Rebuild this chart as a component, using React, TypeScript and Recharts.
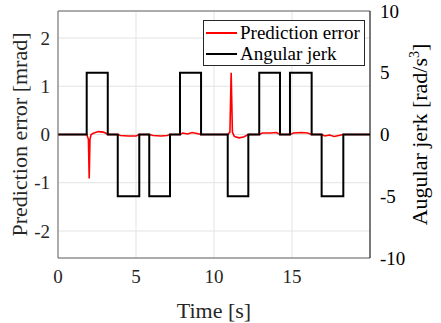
import React from 'react';
import { LineChart, Line, XAxis, YAxis, CartesianGrid, Legend, ReferenceLine } from 'recharts';

// prediction error [mrad]
const errorTime = [
  0, 1.84, 1.95, 2.0, 2.05, 2.12, 2.3, 2.6, 2.9, 3.1, 3.19,
  3.83, 4.0, 4.5, 5.0, 5.21, 5.85, 6.1, 6.6, 7.0, 7.18,
  7.82, 8.0, 8.3, 8.6, 8.9, 9.17, 10.88, 11.02, 11.1, 11.18,
  11.3, 11.6, 11.9, 12.2, 12.9, 13.1, 13.6, 14.0, 14.23,
  14.87, 15.1, 15.6, 16.0, 16.26, 16.9, 17.1, 17.4, 17.7, 18.0, 18.29, 20,
];
const errorValue = [
  0, 0, -0.1, -0.91, -0.1, 0, 0.03, 0.06, 0.05, 0.02, 0,
  0, -0.02, -0.03, -0.03, 0, 0, -0.02, -0.03, -0.02, 0,
  0, 0.03, 0.01, 0.04, 0.02, 0, 0, 0.05, 1.28, 0.05,
  -0.04, -0.07, -0.05, 0, 0, 0.03, 0.03, 0.04, 0,
  0, 0.03, 0.04, 0.03, 0, 0, -0.03, -0.01, -0.04, -0.02, 0, 0,
];

// angular jerk [rad/s^3], piecewise constant
const jerkTime = [0, 1.84, 3.19, 3.83, 5.21, 5.85, 7.18, 7.82, 9.17, 10.88, 12.2, 12.9, 14.23, 14.87, 16.26, 16.9, 18.29, 20];
const jerkValue = [0, 5, 0, -5, 0, -5, 0, 5, 0, -5, 0, 5, 0, 5, 0, -5, 0, 0];

const xTicks = [0, 5, 10, 15];
const leftTicks = [-2, -1, 0, 1, 2];
const rightTicks = [-10, -5, 0, 5, 10];
const seriesNames = ['Prediction error', 'Angular jerk'];
const seriesColors = ['#ff0000', '#000000'];

const errorData = errorTime.map((t, i) => ({ t, err: errorValue[i] }));
const jerkData = jerkTime.map((t, i) => ({ t, jerk: jerkValue[i] }));

const FONT = 'Liberation Serif, Times New Roman, serif';

const LegendBox = () => (
  <div
    style={{
      border: '1px solid #262626',
      background: '#fff',
      fontFamily: FONT,
      fontSize: 19,
      lineHeight: '21px',
      padding: '1px 4px 1px 2px',
      color: '#000',
    }}
  >
    {seriesNames.map((name, i) => (
      <div key={name} style={{ display: 'flex', alignItems: 'center', whiteSpace: 'nowrap' }}>
        <span style={{ display: 'inline-block', width: 31, height: 2, background: seriesColors[i], marginRight: 3 }} />
        <span>{name}</span>
      </div>
    ))}
  </div>
);

const tickStyle = (fill: string) => ({ fill, fontSize: 19, fontFamily: FONT, style: { fontFamily: FONT } });

const App: React.FC = () => {
  return (
    <div style={{ position: 'absolute', left: 0, top: 0, width: 441, height: 323, background: '#fff', fontFamily: FONT }}>
      <LineChart width={441} height={323} margin={{ top: 11, right: 0, bottom: 0, left: 0 }} style={{ fontFamily: FONT }}>
        <CartesianGrid yAxisId="left" stroke="#e3e3e3" strokeWidth={1} />
        <XAxis
          dataKey="t"
          type="number"
          domain={[0, 20]}
          ticks={xTicks}
          allowDataOverflow
          height={65}
          stroke="#666"
          tickSize={0}
          tickMargin={12}
          tick={tickStyle('#262626')}
          label={{
            content: (props: any) => {
              const vb = props.viewBox || { x: 58, y: 258, width: 312 };
              return (
                <text x={vb.x + vb.width / 2} y={vb.y + 60} textAnchor="middle" fontSize={22} style={{ fontFamily: FONT }} fill="#262626">
                  Time [s]
                </text>
              );
            },
          }}
        />
        <YAxis
          yAxisId="left"
          type="number"
          domain={[-2.56, 2.56]}
          ticks={leftTicks}
          allowDataOverflow
          width={58}
          stroke="#666"
          tickSize={0}
          tickMargin={8}
          tick={tickStyle('#262626')}
          label={{
            content: (props: any) => {
              const vb = props.viewBox || { x: 0, y: 11, width: 58, height: 247 };
              const cx = vb.x + 27;
              const cy = vb.y + vb.height / 2;
              return (
                <text x={cx} y={cy} transform={`rotate(-90, ${cx}, ${cy})`} textAnchor="middle" fontSize={22} style={{ fontFamily: FONT }} fill="#262626">
                  Prediction error [mrad]
                </text>
              );
            },
          }}
        />
        <YAxis
          yAxisId="right"
          orientation="right"
          type="number"
          domain={[-10, 10]}
          ticks={rightTicks}
          allowDataOverflow
          width={71}
          stroke="#000"
          tickSize={0}
          tickMargin={10}
          tick={tickStyle('#000')}
          label={{
            content: (props: any) => {
              const vb = props.viewBox || { x: 370, y: 11, width: 71, height: 247 };
              const cx = vb.x + 57;
              const cy = vb.y + vb.height / 2;
              return (
                <text x={cx} y={cy} transform={`rotate(-90, ${cx}, ${cy})`} textAnchor="middle" fontSize={22} style={{ fontFamily: FONT }} fill="#000">
                  Augular jerk [rad/s
                  <tspan dy={-8} fontSize={14}>3</tspan>
                  <tspan dy={8}>]</tspan>
                </text>
              );
            },
          }}
        />
        <ReferenceLine yAxisId="left" y={2.56} stroke="#666" ifOverflow="extendDomain" />
        <Line
          yAxisId="left"
          data={errorData}
          dataKey="err"
          name={seriesNames[0]}
          type="linear"
          stroke={seriesColors[0]}
          strokeWidth={1.6}
          dot={false}
          isAnimationActive={false}
        />
        <Line
          yAxisId="right"
          data={jerkData}
          dataKey="jerk"
          name={seriesNames[1]}
          type="stepAfter"
          stroke={seriesColors[1]}
          strokeWidth={2}
          dot={false}
          isAnimationActive={false}
        />
        <Legend
          layout="vertical"
          align="center"
          verticalAlign="middle"
          content={() => <LegendBox />}
          wrapperStyle={{ position: 'absolute', left: 203, top: 20, width: 'auto', height: 'auto' }}
        />
      </LineChart>
    </div>
  );
};

export default App;
